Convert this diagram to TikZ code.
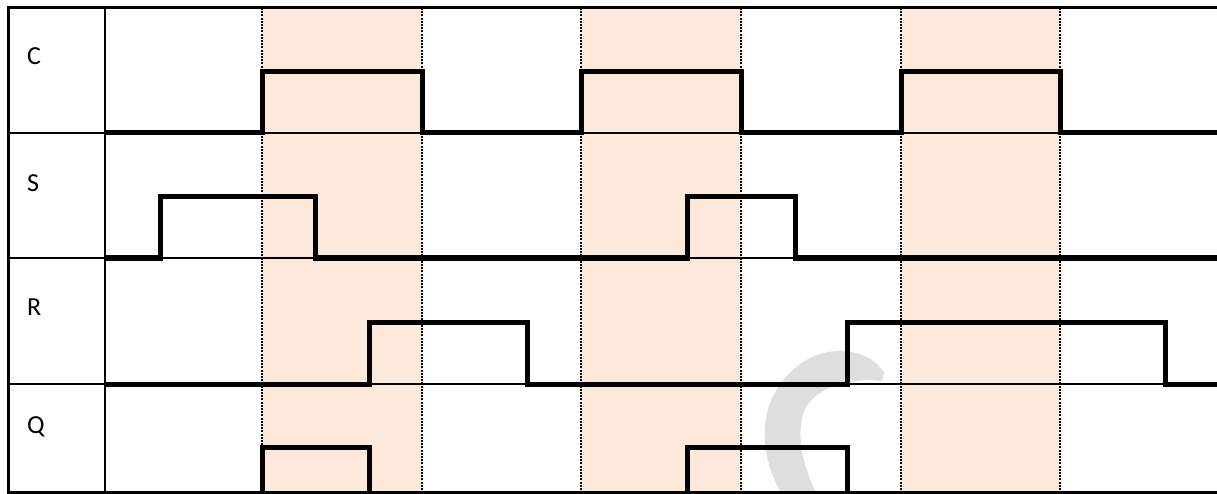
\documentclass[tikz,border=0pt]{standalone}
\usepackage{fontspec}
\setmainfont{Carlito}
\usetikzlibrary{positioning}
\definecolor{clkshade}{HTML}{FCE9DA}
\definecolor{wmark}{HTML}{DEDEDE}
\begin{document}
\begin{tikzpicture}[x=1pt,y=-1pt,
  wave/.style={line width=5pt,line join=miter},
  rule/.style={line width=2pt},
  frame/.style={line width=3pt},
  clkline/.style={line width=2pt,black,dash pattern=on 2pt off 1.2pt},
  sig/.style={font=\fontsize{26}{30}\selectfont,anchor=base west,inner sep=0pt}]
\useasboundingbox (0,0) rectangle (1217,494);
\clip (0,0) rectangle (1217,494);
% ---- clock-high bands ----
\foreach \xa/\xb in {262/422,581/741,901/1060}
  \fill[clkshade] (\xa,8) rectangle (\xb,492);
% ---- faint mark behind the grid ----
\fill[wmark] (884,373) .. controls (868,343) and (798,335) .. (769,405)
  .. controls (759,440) and (768,472) .. (783,496) -- (818,496)
  .. controls (801,465) and (795,428) .. (806,407)
  .. controls (822,382) and (860,378) .. (882,381) -- cycle;
% ---- table rules ----
\foreach \y in {133,258,384}
  \draw[rule] (8,\y) -- (1220,\y);
\draw[rule] (105,8) -- (105,492);
\draw[frame] (1220,8) -- (8,8) -- (8,492) -- (1220,492);
% ---- dotted clock edges ----
\foreach \x in {262,422,581,741,901,1060}
  \draw[clkline] (\x,8) -- (\x,492);
% ---- signal names ----
\node[sig] (lblC) at (27,65) {C};
\node[sig] (lblS) at (27,192) {S};
\node[sig] (lblR) at (27,315) {R};
\node[sig] (lblQ) at (27,433) {Q};
% ---- C, low y=133, high y=72 ----
\draw[wave] (105,133) -- (262,133) -- (262,72) -- (422,72) -- (422,133)
  -- (581,133) -- (581,72) -- (741,72) -- (741,133) -- (901,133)
  -- (901,72) -- (1060,72) -- (1060,133) -- (1220,133);
% ---- S, low y=258, high y=197 ----
\draw[wave] (105,258) -- (160,258) -- (160,197) -- (315,197) -- (315,258)
  -- (687,258) -- (687,197) -- (795,197) -- (795,258) -- (1220,258);
% ---- R, low y=384, high y=322 ----
\draw[wave] (105,384) -- (369,384) -- (369,322) -- (527,322) -- (527,384)
  -- (847,384) -- (847,322) -- (1165,322) -- (1165,384) -- (1220,384);
% ---- Q, low on the bottom rule, high y=447 ----
\draw[wave] (262,494) -- (262,447) -- (369,447) -- (369,494);
\draw[wave] (687,494) -- (687,447) -- (847,447) -- (847,494);
\end{tikzpicture}
\end{document}
